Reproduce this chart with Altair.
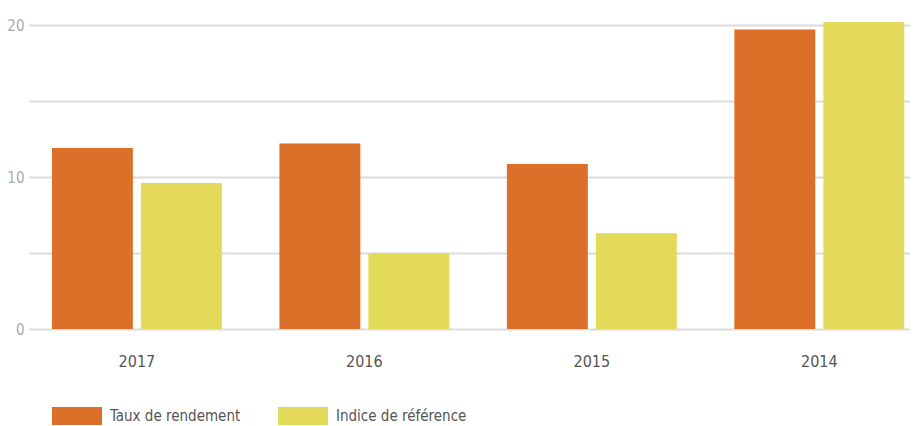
import altair as alt
import pandas as pd

years = ["2017", "2016", "2015", "2014"]
series = ["Taux de rendement", "Indice de référence"]
taux = [11.9, 12.2, 10.85, 19.7]
indice = [9.6, 5.0, 6.3, 20.2]
colors = ["#DC7028", "#E4DA5A"]

rows = []
for y, a, b in zip(years, taux, indice):
    rows.append({"year": y, "serie": series[0], "value": a})
    rows.append({"year": y, "serie": series[1], "value": b})
df = pd.DataFrame(rows)

FONT = "Liberation Sans Narrow, DejaVu Sans Condensed, sans-serif"

chart = alt.Chart(df).mark_bar().encode(
    x=alt.X("year:N", sort=years,
            scale=alt.Scale(paddingInner=0.253, paddingOuter=0.063, align=0.8),
            axis=alt.Axis(title=None, labelAngle=0, domain=False, ticks=False, tickSize=0,
                          labelPadding=24, labelFontSize=16, labelColor="#555555",
                          labelFont=FONT, grid=False)),
    xOffset=alt.XOffset("serie:N", sort=series, scale=alt.Scale(paddingInner=0.09)),
    y=alt.Y("value:Q", scale=alt.Scale(domain=[0, 20], nice=False),
            axis=alt.Axis(title=None, values=[0, 5, 10, 15, 20],
                          labelExpr="datum.value % 10 == 0 ? datum.label : ''",
                          domain=False, ticks=False, tickSize=0, labelPadding=5,
                          labelFontSize=15, labelColor="#aaaaaa", labelFont=FONT,
                          gridColor="#dcdcdc", gridWidth=2)),
    color=alt.Color("serie:N", sort=series,
                    scale=alt.Scale(domain=series, range=colors),
                    legend=alt.Legend(title=None, orient="none", legendX=23, legendY=366,
                                      direction="horizontal",
                                      symbolType="M-1,-0.36L1,-0.36L1,0.36L-1,0.36Z",
                                      symbolSize=2500, symbolStrokeWidth=0,
                                      labelFontSize=15, labelColor="#555555", labelFont=FONT,
                                      labelOffset=8, columnPadding=37)),
).properties(
    width=881, height=304,
    padding={"left": 21, "top": 17, "right": 0, "bottom": 97},
    autosize=alt.AutoSizeParams(type="none"),
).configure_view(stroke=None)

chart.save("out.html", embed_options={"renderer": "svg", "actions": False})
